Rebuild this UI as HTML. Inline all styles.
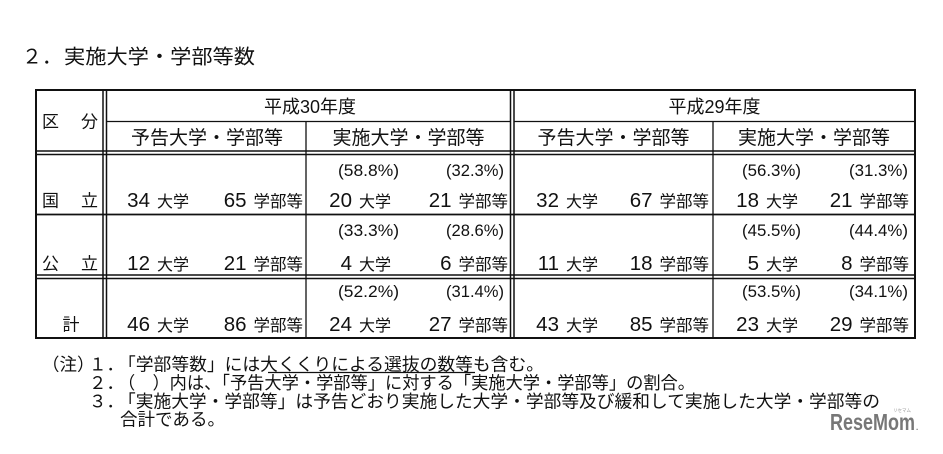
<!DOCTYPE html>
<html><head><meta charset="utf-8"><style>
html,body{margin:0;padding:0;background:#fff;}
svg{display:block;}
text{font-family:"Liberation Sans","Noto Sans CJK JP",sans-serif;fill:#111;}
</style></head><body>
<svg width="943" height="454" viewBox="0 0 943 454" xmlns="http://www.w3.org/2000/svg">
<rect x="0" y="0" width="943" height="454" fill="#fff"/>
<!-- Title -->
<text x="22" y="63.5" font-size="20">２．</text>
<text x="64" y="63.5" font-size="20" textLength="191" lengthAdjust="spacingAndGlyphs">実施大学・学部等数</text>

<!-- Table lines -->
<g stroke="#111" fill="none">
  <rect x="36" y="90" width="879" height="248" stroke-width="2"/>
  <line x1="103" y1="90" x2="103" y2="338" stroke-width="1.5"/>
  <line x1="106.5" y1="90" x2="106.5" y2="338" stroke-width="1.5"/>
  <line x1="510.5" y1="90" x2="510.5" y2="338" stroke-width="1.5"/>
  <line x1="514" y1="90" x2="514" y2="338" stroke-width="1.5"/>
  <line x1="107" y1="121.5" x2="510" y2="121.5" stroke-width="1.3"/>
  <line x1="514" y1="121.5" x2="915" y2="121.5" stroke-width="1.3"/>
  <line x1="36" y1="151" x2="915" y2="151" stroke-width="1.5"/>
  <line x1="36" y1="154.5" x2="915" y2="154.5" stroke-width="1.5"/>
  <line x1="306" y1="121.5" x2="306" y2="338" stroke-width="1.3"/>
  <line x1="713" y1="121.5" x2="713" y2="338" stroke-width="1.3"/>
  <line x1="36" y1="214.5" x2="915" y2="214.5" stroke-width="1.8"/>
  <line x1="36" y1="275" x2="915" y2="275" stroke-width="1.5"/>
  <line x1="36" y1="278.5" x2="915" y2="278.5" stroke-width="1.5"/>
</g>

<!-- Header -->
<text x="42" y="127.5" font-size="17">区</text>
<text x="81" y="127.5" font-size="17">分</text>
<text x="310" y="113" font-size="18" text-anchor="middle">平成30年度</text>
<text x="714.5" y="113" font-size="18" text-anchor="middle">平成29年度</text>
<text x="207" y="144" font-size="19" text-anchor="middle" textLength="152" lengthAdjust="spacingAndGlyphs">予告大学・学部等</text>
<text x="408.5" y="144" font-size="19" text-anchor="middle" textLength="152" lengthAdjust="spacingAndGlyphs">実施大学・学部等</text>
<text x="613.5" y="144" font-size="19" text-anchor="middle" textLength="152" lengthAdjust="spacingAndGlyphs">予告大学・学部等</text>
<text x="814" y="144" font-size="19" text-anchor="middle" textLength="152" lengthAdjust="spacingAndGlyphs">実施大学・学部等</text>

<!-- Row labels -->
<text x="42" y="206.5" font-size="17">国</text>
<text x="81" y="206.5" font-size="17">立</text>
<text x="42" y="269.5" font-size="17">公</text>
<text x="81" y="269.5" font-size="17">立</text>
<text x="71" y="330.5" font-size="17" text-anchor="middle">計</text>

<!-- Row 1 -->
<text x="189" y="207" text-anchor="end"><tspan font-size="20.5">34</tspan><tspan font-size="16" dx="7">大学</tspan></text>
<text x="303" y="207" text-anchor="end"><tspan font-size="20.5">65</tspan><tspan font-size="16.5" dx="7">学部等</tspan></text>
<text x="399" y="176" font-size="17" text-anchor="end" textLength="61" lengthAdjust="spacingAndGlyphs">(58.8%)</text>
<text x="504" y="176" font-size="17" text-anchor="end" textLength="58" lengthAdjust="spacingAndGlyphs">(32.3%)</text>
<text x="391" y="207" text-anchor="end"><tspan font-size="20.5">20</tspan><tspan font-size="16" dx="7">大学</tspan></text>
<text x="508" y="207" text-anchor="end"><tspan font-size="20.5">21</tspan><tspan font-size="16.5" dx="7">学部等</tspan></text>
<text x="598" y="207" text-anchor="end"><tspan font-size="20.5">32</tspan><tspan font-size="16" dx="7">大学</tspan></text>
<text x="709" y="207" text-anchor="end"><tspan font-size="20.5">67</tspan><tspan font-size="16.5" dx="7">学部等</tspan></text>
<text x="801" y="176" font-size="17" text-anchor="end" textLength="59" lengthAdjust="spacingAndGlyphs">(56.3%)</text>
<text x="908" y="176" font-size="17" text-anchor="end" textLength="59" lengthAdjust="spacingAndGlyphs">(31.3%)</text>
<text x="798" y="207" text-anchor="end"><tspan font-size="20.5">18</tspan><tspan font-size="16" dx="7">大学</tspan></text>
<text x="909" y="207" text-anchor="end"><tspan font-size="20.5">21</tspan><tspan font-size="16.5" dx="7">学部等</tspan></text>

<!-- Row 2 -->
<text x="189" y="270" text-anchor="end"><tspan font-size="20.5">12</tspan><tspan font-size="16" dx="7">大学</tspan></text>
<text x="303" y="270" text-anchor="end"><tspan font-size="20.5">21</tspan><tspan font-size="16.5" dx="7">学部等</tspan></text>
<text x="399" y="236" font-size="17" text-anchor="end" textLength="61" lengthAdjust="spacingAndGlyphs">(33.3%)</text>
<text x="504" y="236" font-size="17" text-anchor="end" textLength="58" lengthAdjust="spacingAndGlyphs">(28.6%)</text>
<text x="391" y="270" text-anchor="end"><tspan font-size="20.5">4</tspan><tspan font-size="16" dx="7">大学</tspan></text>
<text x="508" y="270" text-anchor="end"><tspan font-size="20.5">6</tspan><tspan font-size="16.5" dx="7">学部等</tspan></text>
<text x="598" y="270" text-anchor="end"><tspan font-size="20.5">11</tspan><tspan font-size="16" dx="7">大学</tspan></text>
<text x="709" y="270" text-anchor="end"><tspan font-size="20.5">18</tspan><tspan font-size="16.5" dx="7">学部等</tspan></text>
<text x="801" y="236" font-size="17" text-anchor="end" textLength="59" lengthAdjust="spacingAndGlyphs">(45.5%)</text>
<text x="908" y="236" font-size="17" text-anchor="end" textLength="59" lengthAdjust="spacingAndGlyphs">(44.4%)</text>
<text x="798" y="270" text-anchor="end"><tspan font-size="20.5">5</tspan><tspan font-size="16" dx="7">大学</tspan></text>
<text x="909" y="270" text-anchor="end"><tspan font-size="20.5">8</tspan><tspan font-size="16.5" dx="7">学部等</tspan></text>

<!-- Row 3 -->
<text x="189" y="331" text-anchor="end"><tspan font-size="20.5">46</tspan><tspan font-size="16" dx="7">大学</tspan></text>
<text x="303" y="331" text-anchor="end"><tspan font-size="20.5">86</tspan><tspan font-size="16.5" dx="7">学部等</tspan></text>
<text x="399" y="297" font-size="17" text-anchor="end" textLength="61" lengthAdjust="spacingAndGlyphs">(52.2%)</text>
<text x="504" y="297" font-size="17" text-anchor="end" textLength="58" lengthAdjust="spacingAndGlyphs">(31.4%)</text>
<text x="391" y="331" text-anchor="end"><tspan font-size="20.5">24</tspan><tspan font-size="16" dx="7">大学</tspan></text>
<text x="508" y="331" text-anchor="end"><tspan font-size="20.5">27</tspan><tspan font-size="16.5" dx="7">学部等</tspan></text>
<text x="598" y="331" text-anchor="end"><tspan font-size="20.5">43</tspan><tspan font-size="16" dx="7">大学</tspan></text>
<text x="709" y="331" text-anchor="end"><tspan font-size="20.5">85</tspan><tspan font-size="16.5" dx="7">学部等</tspan></text>
<text x="801" y="297" font-size="17" text-anchor="end" textLength="59" lengthAdjust="spacingAndGlyphs">(53.5%)</text>
<text x="908" y="297" font-size="17" text-anchor="end" textLength="59" lengthAdjust="spacingAndGlyphs">(34.1%)</text>
<text x="798" y="331" text-anchor="end"><tspan font-size="20.5">23</tspan><tspan font-size="16" dx="7">大学</tspan></text>
<text x="909" y="331" text-anchor="end"><tspan font-size="20.5">29</tspan><tspan font-size="16.5" dx="7">学部等</tspan></text>

<!-- Notes -->
<text x="42" y="370.5" font-size="17.5">（注）</text>
<text x="89" y="370.5" font-size="17.5">１．</text>
<text x="118" y="370.5" font-size="17.5" textLength="426" lengthAdjust="spacingAndGlyphs">「学部等数」には大くくりによる選抜の数等も含む。</text>
<line x1="268" y1="372.5" x2="475" y2="372.5" stroke="#111" stroke-width="1.2"/>
<text x="89" y="389" font-size="17.5">２．</text>
<text x="118" y="389" font-size="17.5" textLength="577" lengthAdjust="spacingAndGlyphs">（　）内は、「予告大学・学部等」に対する「実施大学・学部等」の割合。</text>
<text x="89" y="407.5" font-size="17.5">３．</text>
<text x="118" y="407.5" font-size="17.5" textLength="762" lengthAdjust="spacingAndGlyphs">「実施大学・学部等」は予告どおり実施した大学・学部等及び緩和して実施した大学・学部等の</text>
<text x="120" y="425.5" font-size="17.5" textLength="105" lengthAdjust="spacingAndGlyphs">合計である。</text>

<!-- Logo -->
<text x="830" y="430" font-size="23" font-weight="bold" style="fill:#777" textLength="85" lengthAdjust="spacingAndGlyphs">ReseMom</text>
<text x="916" y="430" font-size="8" font-weight="bold" style="fill:#777">.</text>
<text x="893" y="412" font-size="4.5" style="fill:#999">リセマム</text>
</svg>
</body></html>
